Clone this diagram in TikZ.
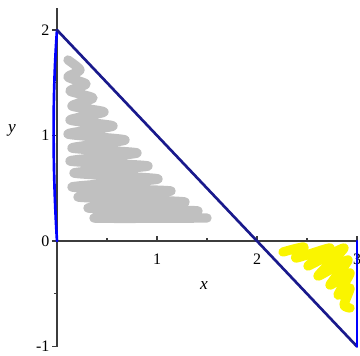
\documentclass[tikz,border=0pt]{standalone}
\usepackage{fontspec}
\setmainfont{Liberation Serif}
\usetikzlibrary{positioning}
\definecolor{axisgray}{RGB}{60,60,60}
\definecolor{edgenavy}{RGB}{25,25,140}
\definecolor{edgeblue}{RGB}{0,0,255}
\definecolor{scribblegray}{RGB}{192,192,192}
\definecolor{scribbleyellow}{RGB}{250,245,0}

\begin{document}
\begin{tikzpicture}[x=75pt, y=79.125pt,
    axis/.style={axisgray, line width=0.9pt},
    tick/.style={axisgray, line width=0.8pt},
    ticklabel/.style={font=\fontsize{12}{12}\selectfont, inner sep=1pt},
    varlabel/.style={font=\fontsize{13}{13}\selectfont\itshape, inner sep=1pt},
    edge/.style={line width=2pt, line cap=round},
    scribble/.style={line width=7pt, line cap=round, line join=round}
]
\useasboundingbox (-0.57,-1.0806) rectangle (3.03,2.2844);

% hand shading, in pixel coordinates
\begin{scope}[shift={(-0.57,2.2844)}, x=0.75pt, y=-0.75pt]
\draw[scribble, scribblegray] plot[smooth, tension=0.4] coordinates {
    (68,60) (80,70) (68,77) (86,84) (70,91) (93,98) (72,106) (104,112)
    (70,120) (113,126) (68,134) (125,140) (72,148) (137,153) (70,161)
    (148,166) (74,173) (158,179) (72,187) (171,191) (78,197) (185,202)
    (88,208) (198,211) (94,218) (207,218)};
\draw[scribble, scribbleyellow] plot[smooth, tension=0.4] coordinates {
    (283,252) (304,247) (296,258) (330,248) (308,266) (344,248)
    (318,276) (348,260) (330,285) (350,273) (338,295) (350,288)
    (344,305) (350,308)};
\end{scope}

% axes
\draw[axis] (0,-1) -- (0,2.21);
\draw[axis] (0,0) -- (3,0);
\foreach \y in {-1,0,1,2}
    \draw[tick] (0,\y) -- (-0.05,\y);
\foreach \y in {-0.5,0.5,1.5}
    \draw[tick] (0,\y) -- (-0.03,\y);
\foreach \x in {1,2,3}
    \draw[tick] (\x,0) -- (\x,0.045);
\foreach \x in {0.5,1.5,2.5}
    \draw[tick] (\x,0) -- (\x,0.03);

\node (ylab2) [ticklabel, left] at (-0.06,2) {2};
\node (ylab1) [ticklabel, left] at (-0.06,1) {1};
\node (ylab0) [ticklabel, left] at (-0.06,0) {0};
\node (ylabm) [ticklabel, left] at (-0.06,-1) {-1};
\node (xlab1) [ticklabel, below] at (1,-0.11) {1};
\node (xlab2) [ticklabel, below] at (2,-0.11) {2};
\node (xlab3) [ticklabel, below] at (3,-0.11) {3};
\node (ylabel) [varlabel] at (-0.45,1.05) {y};
\node (xlabel) [varlabel] at (1.47,-0.42) {x};

% region boundary
\coordinate (top) at (0,2);
\coordinate (origin) at (0,0);
\coordinate (corner) at (3,-1);
\coordinate (right) at (3,0);
\draw[edge, edgeblue] (origin) .. controls (-0.045,0.7) and (-0.045,1.4) .. (top);
\draw[edge, edgenavy] (top) -- (corner);
\draw[edge, edgeblue] (right) -- (corner);

\end{tikzpicture}
\end{document}
